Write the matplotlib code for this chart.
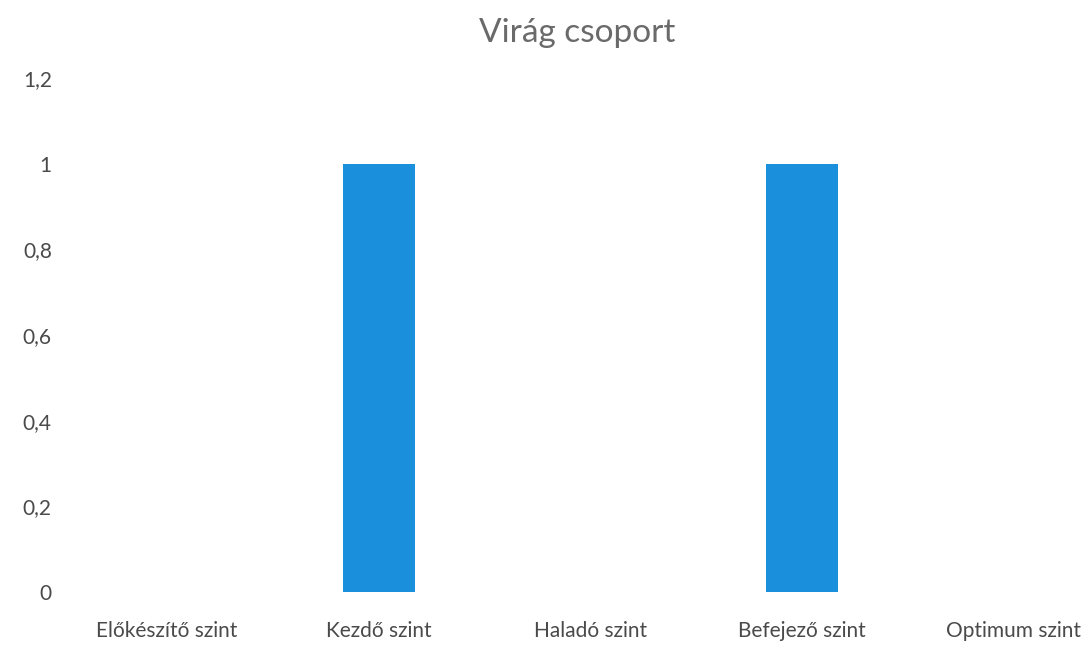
import matplotlib.pyplot as plt
from matplotlib.ticker import FuncFormatter

# chart data
categories = ["Előkészítő szint", "Kezdő szint", "Haladó szint", "Befejező szint", "Optimum szint"]
values = [0, 1, 0, 1, 0]
y_ticks = [0, 0.2, 0.4, 0.6, 0.8, 1, 1.2]

plt.rcParams['font.family'] = ['Lato', 'DejaVu Sans']

fig = plt.figure(figsize=(10.85, 6.52), dpi=100)
ax = fig.add_axes([56 / 1085, 60 / 652, 1026 / 1085, 514 / 652])

ax.bar(range(len(categories)), values, width=0.34, color="#1a8fdc")

ax.set_xlim(-0.525, 4.325)
ax.set_ylim(0, 1.2)
ax.set_yticks(y_ticks)
ax.yaxis.set_major_formatter(FuncFormatter(lambda v, p: ("%g" % v).replace(".", ",")))
ax.set_xticks(range(len(categories)))
ax.set_xticklabels(categories)

for s in ax.spines.values():
    s.set_visible(False)
ax.tick_params(axis="both", length=0, labelsize=15, colors="#4a4a4a")
ax.tick_params(axis="x", pad=21)
ax.tick_params(axis="y", pad=3)

fig.text(577 / 1085, 1 - 33 / 652, "Virág csoport", ha="center", va="center",
         fontsize=24, color="#6a6a6a")

fig.savefig("out.png", dpi=100)
